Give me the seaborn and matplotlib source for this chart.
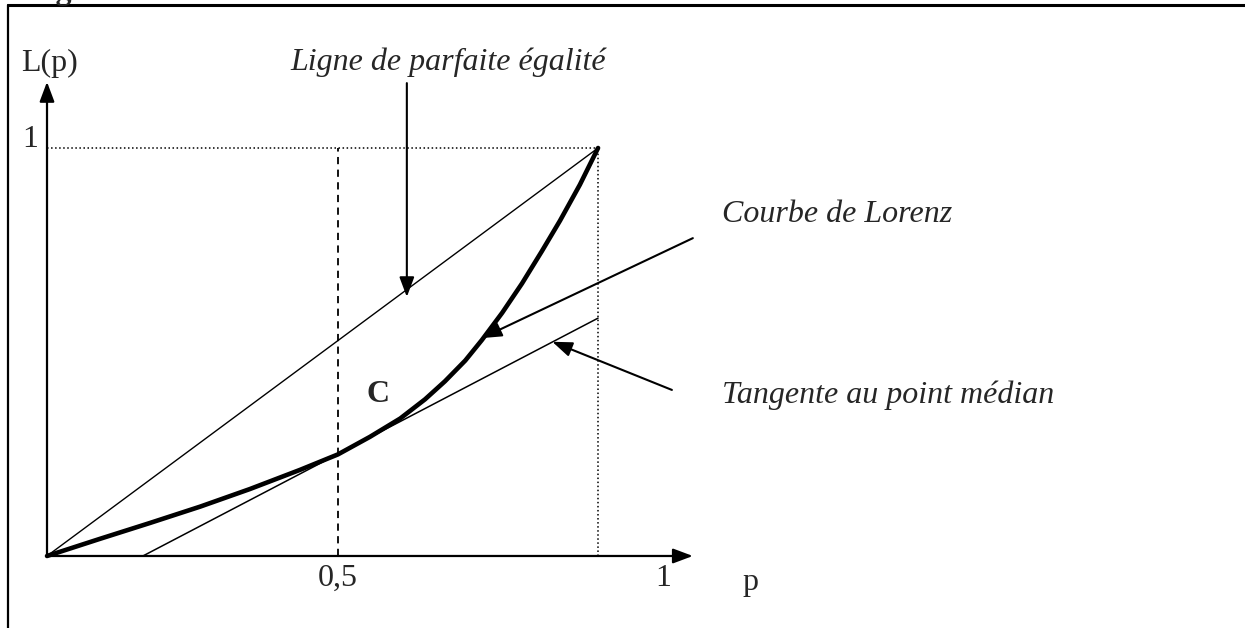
import matplotlib
matplotlib.use("Agg")
import matplotlib.pyplot as plt
import seaborn as sns
from matplotlib.lines import Line2D

# courbe de Lorenz
p_lorenz = [0.0, 0.096, 0.187, 0.278, 0.368, 0.459, 0.528, 0.586, 0.641, 0.686,
            0.722, 0.759, 0.789, 0.826, 0.862, 0.898, 0.931, 0.967, 1.0]
L_lorenz = [0.0, 0.042, 0.081, 0.121, 0.164, 0.211, 0.249, 0.292, 0.337, 0.384,
            0.428, 0.479, 0.529, 0.596, 0.668, 0.747, 0.822, 0.910, 1.0]

# ligne de parfaite égalité
p_egal = [0.0, 1.0]
L_egal = [0.0, 1.0]

# tangente au point médian
p_tang = [0.174, 1.0]
L_tang = [0.0, 0.583]

p_median = 0.528

sns.set_theme(style="white")
plt.rcParams["font.family"] = ["Liberation Serif", "DejaVu Serif"]

fig = plt.figure(figsize=(12.45, 6.28), dpi=100)
ax = fig.add_axes([0, 0, 1, 1])
ax.set_xlim(-0.0853, 2.174)
ax.set_ylim(-0.1765, 1.3627)
ax.axis("off")

# repères pointillés
ax.plot([0, 1], [1, 1], color="black", linestyle=":", linewidth=1.1)
ax.plot([1, 1], [0, 1], color="black", linestyle=":", linewidth=1.1)
ax.plot([p_median, p_median], [0, 1], color="black", linestyle=(0, (4, 3)), linewidth=1.3)

# courbes
sns.lineplot(x=p_egal, y=L_egal, ax=ax, color="black", linewidth=1.0, estimator=None, sort=False)
sns.lineplot(x=p_tang, y=L_tang, ax=ax, color="black", linewidth=1.1, estimator=None, sort=False)
sns.lineplot(x=p_lorenz, y=L_lorenz, ax=ax, color="black", linewidth=3.3, estimator=None,
             sort=False, solid_joinstyle="round", solid_capstyle="round")

# axes avec flèches
axe_style = dict(arrowstyle="-|>,head_length=0.8,head_width=0.3", color="black",
                 lw=1.6, mutation_scale=15, shrinkA=0, shrinkB=0)
ax.annotate("", xy=(0, 1.162), xytext=(0, 0), arrowprops=axe_style)
ax.annotate("", xy=(1.172, 0), xytext=(0, 0), arrowprops=axe_style)

# flèches des légendes
fl_style = dict(arrowstyle="-|>,head_length=0.8,head_width=0.3", color="black",
                lw=1.5, mutation_scale=15, shrinkA=0, shrinkB=0)
ax.annotate("", xy=(0.653, 0.635), xytext=(0.653, 1.159), arrowprops=fl_style)
ax.annotate("", xy=(0.789, 0.534), xytext=(1.172, 0.779), arrowprops=fl_style)
ax.annotate("", xy=(0.917, 0.525), xytext=(1.134, 0.407), arrowprops=fl_style)

# textes
fs = 23
ax.text(0.441, 1.211, "Ligne de parfaite égalité", fontsize=fs, style="italic",
        ha="left", va="center")
ax.text(1.225, 0.836, "Courbe de Lorenz", fontsize=fs, style="italic", ha="left", va="center")
ax.text(1.225, 0.395, "Tangente au point médian", fontsize=fs, style="italic",
        ha="left", va="center")
ax.text(0.601, 0.395, "C", fontsize=fs, fontweight="bold", ha="center", va="center")
ax.text(0.004, 1.208, "L(p)", fontsize=fs, ha="center", va="center")
ax.text(-0.031, 1.02, "1", fontsize=fs, ha="center", va="center")
ax.text(p_median, -0.054, "0,5", fontsize=fs, ha="center", va="center")
ax.text(1.118, -0.054, "1", fontsize=fs, ha="center", va="center")
ax.text(1.276, -0.066, "p", fontsize=fs, ha="center", va="center")

# cadre
fig.add_artist(Line2D([8 / 1245, 1.0], [1 - 5 / 628, 1 - 5 / 628], color="black", linewidth=2.2))
fig.add_artist(Line2D([8 / 1245, 8 / 1245], [0.0, 1 - 5 / 628], color="black", linewidth=1.6))
fig.text(27 / 1245, 1 + 1 / 628, "Fig", fontsize=fs, fontweight="bold", va="baseline")

fig.savefig("out.png", dpi=100)
